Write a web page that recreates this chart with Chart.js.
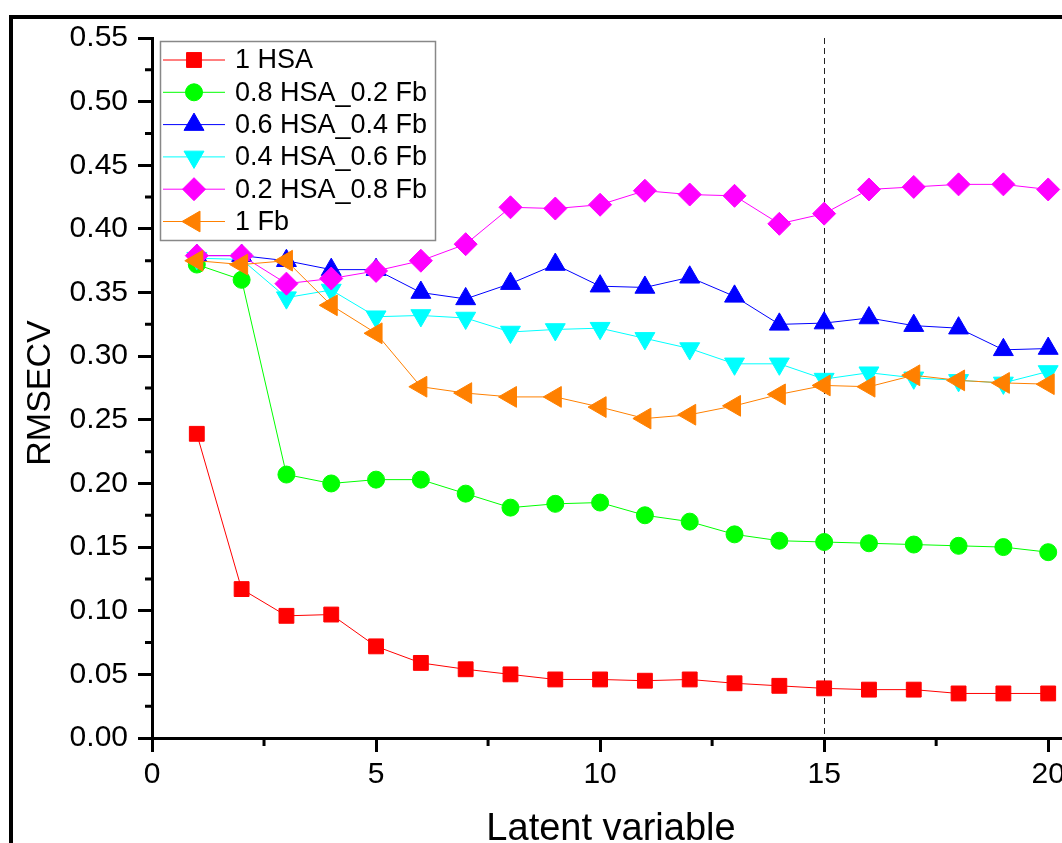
<!DOCTYPE html>
<html>
<head>
<meta charset="utf-8">
<script src="https://cdn.jsdelivr.net/npm/chart.js"></script>
<style>
  html, body { margin: 0; padding: 0; background: #fff; overflow: hidden; }
  #wrap { width: 1062px; height: 843px; overflow: hidden; position: relative; }
</style>
</head>
<body>
<div id="wrap"><canvas id="myChart" width="1106" height="843"></canvas></div>
<script>
// latent variables (x) and RMSECV values
const latentVars = [1, 2, 3, 4, 5, 6, 7, 8, 9, 10, 11, 12, 13, 14, 15, 16, 17, 18, 19, 20];
const hsa1 = [0.239, 0.117, 0.096, 0.097, 0.072, 0.059, 0.054, 0.050, 0.046, 0.046, 0.045, 0.046, 0.043, 0.041, 0.039, 0.038, 0.038, 0.035, 0.035, 0.035];
const hsa08 = [0.372, 0.360, 0.207, 0.200, 0.203, 0.203, 0.192, 0.181, 0.184, 0.185, 0.175, 0.170, 0.160, 0.155, 0.154, 0.153, 0.152, 0.151, 0.150, 0.146];
const hsa06 = [0.379, 0.379, 0.375, 0.368, 0.368, 0.350, 0.345, 0.357, 0.372, 0.355, 0.354, 0.362, 0.347, 0.325, 0.326, 0.330, 0.324, 0.322, 0.305, 0.306];
const hsa04 = [0.377, 0.376, 0.346, 0.352, 0.331, 0.332, 0.330, 0.319, 0.321, 0.322, 0.314, 0.306, 0.294, 0.294, 0.282, 0.287, 0.283, 0.281, 0.279, 0.288];
const hsa02 = [0.379, 0.379, 0.357, 0.361, 0.367, 0.375, 0.388, 0.417, 0.416, 0.419, 0.430, 0.427, 0.426, 0.404, 0.412, 0.431, 0.433, 0.435, 0.435, 0.431];
const fb1 = [0.375, 0.372, 0.375, 0.340, 0.318, 0.276, 0.271, 0.268, 0.268, 0.260, 0.251, 0.254, 0.261, 0.270, 0.277, 0.276, 0.285, 0.281, 0.279, 0.278];

const seriesNames = ['1 HSA', '0.8 HSA_0.2 Fb', '0.6 HSA_0.4 Fb', '0.4 HSA_0.6 Fb', '0.2 HSA_0.8 Fb', '1 Fb'];
const yTicks = [0, 0.05, 0.10, 0.15, 0.20, 0.25, 0.30, 0.35, 0.40, 0.45, 0.50, 0.55];
const xTicks = [0, 5, 10, 15, 20];
const markLV = 15; // dashed reference line

const FONT = "'Liberation Sans', Arial, sans-serif";

function pts(vals) {
  return latentVars.map((x, i) => ({ x: x, y: vals[i] }));
}

function makeSet(label, vals, color, style, r, rot, order) {
  return {
    label: label,
    data: pts(vals),
    borderColor: color,
    backgroundColor: color,
    borderWidth: 1,
    pointStyle: style,
    pointRadius: r,
    pointRotation: rot,
    pointBorderWidth: 1,
    pointBorderColor: color,
    pointBackgroundColor: color,
    tension: 0,
    order: order
  };
}

const datasets = [
  makeSet(seriesNames[0], hsa1, '#ff0000', 'rect', 10.5, 0, 6),
  makeSet(seriesNames[1], hsa08, '#00ff00', 'circle', 8.5, 0, 5),
  makeSet(seriesNames[2], hsa06, '#0000ff', 'triangle', 11.5, 0, 4),
  makeSet(seriesNames[3], hsa04, '#00ffff', 'triangle', 11.5, 180, 3),
  makeSet(seriesNames[4], hsa02, '#ff00ff', 'rectRot', 11.5, 0, 2),
  makeSet(seriesNames[5], fb1, '#ff8000', 'triangle', 12, 270, 1)
];

// small marker drawer for the legend
function drawMarker(ctx, ds, x, y) {
  const r = ds.pointRadius;
  const rad = (ds.pointRotation || 0) * Math.PI / 180;
  ctx.save();
  ctx.fillStyle = ds.pointBackgroundColor;
  ctx.strokeStyle = ds.pointBorderColor;
  ctx.lineWidth = 1;
  ctx.beginPath();
  if (ds.pointStyle === 'circle') {
    ctx.arc(x, y, r, 0, Math.PI * 2);
  } else if (ds.pointStyle === 'rect') {
    const s = Math.SQRT1_2 * r;
    ctx.rect(x - s, y - s, 2 * s, 2 * s);
  } else if (ds.pointStyle === 'rectRot') {
    ctx.moveTo(x, y - r); ctx.lineTo(x + r, y); ctx.lineTo(x, y + r); ctx.lineTo(x - r, y);
  } else {
    let a = rad;
    ctx.moveTo(x + Math.sin(a) * r, y - Math.cos(a) * r);
    a += 2 * Math.PI / 3;
    ctx.lineTo(x + Math.sin(a) * r, y - Math.cos(a) * r);
    a += 2 * Math.PI / 3;
    ctx.lineTo(x + Math.sin(a) * r, y - Math.cos(a) * r);
  }
  ctx.closePath();
  ctx.fill();
  ctx.stroke();
  ctx.restore();
}

const extras = {
  id: 'extras',
  beforeDatasetsDraw(chart) {
    const ctx = chart.ctx;
    const xs = chart.scales.x;
    const a = chart.chartArea;
    const px = Math.round(xs.getPixelForValue(markLV)) + 0.5;
    ctx.save();
    ctx.strokeStyle = '#222';
    ctx.lineWidth = 1;
    ctx.setLineDash([6, 4]);
    ctx.beginPath();
    ctx.moveTo(px, a.top);
    ctx.lineTo(px, a.bottom);
    ctx.stroke();
    ctx.restore();
  },
  afterDraw(chart) {
    const ctx = chart.ctx;
    const xs = chart.scales.x, ys = chart.scales.y;
    const a = chart.chartArea;
    ctx.save();

    // minor ticks
    ctx.strokeStyle = '#000';
    ctx.lineWidth = 3;
    ctx.beginPath();
    for (let i = 0; i < yTicks.length - 1; i++) {
      const py = ys.getPixelForValue((yTicks[i] + yTicks[i + 1]) / 2);
      ctx.moveTo(a.left, py);
      ctx.lineTo(a.left - 7, py);
    }
    for (let i = 0; i < xTicks.length; i++) {
      const px = xs.getPixelForValue(xTicks[i] + 2.5);
      ctx.moveTo(px, a.bottom);
      ctx.lineTo(px, a.bottom + 8);
    }
    ctx.stroke();

    // outer frame
    ctx.lineWidth = 4;
    ctx.strokeRect(11, 17, 2000, 2000);

    // axis titles
    ctx.fillStyle = '#000';
    ctx.textAlign = 'center';
    ctx.textBaseline = 'alphabetic';
    ctx.font = '38px ' + FONT;
    ctx.fillText('Latent variable', 611, 840);
    ctx.save();
    ctx.translate(50, 393);
    ctx.rotate(-Math.PI / 2);
    ctx.font = '34px ' + FONT;
    ctx.fillText('RMSECV', 0, 0);
    ctx.restore();

    // legend
    const lx = 160, ly = 41, lw = 275, lh = 199;
    ctx.fillStyle = '#fff';
    ctx.fillRect(lx, ly, lw, lh);
    ctx.strokeStyle = '#888';
    ctx.lineWidth = 1.5;
    ctx.strokeRect(lx + 0.5, ly + 0.5, lw, lh);
    ctx.font = '27px ' + FONT;
    ctx.textAlign = 'left';
    ctx.textBaseline = 'middle';
    chart.data.datasets.forEach((ds, i) => {
      const cy = 60 + i * 32.3;
      ctx.strokeStyle = ds.borderColor;
      ctx.lineWidth = 1;
      ctx.beginPath();
      ctx.moveTo(163, cy);
      ctx.lineTo(225, cy);
      ctx.stroke();
      drawMarker(ctx, ds, 194, cy);
      ctx.fillStyle = '#000';
      ctx.fillText(ds.label, 235, cy + 1);
    });
    ctx.restore();
  }
};

function makeChart() {
  const ctx = document.getElementById('myChart');
  return new Chart(ctx, {
    type: 'line',
    data: { datasets: datasets },
    options: {
      responsive: false,
      animation: false,
      layout: { padding: { left: 0, top: 38, right: 8, bottom: 0 } },
      plugins: { legend: { display: false }, tooltip: { enabled: false } },
      scales: {
        x: {
          type: 'linear',
          min: 0,
          max: 21,
          afterFit: (s) => { s.height = 105; },
          ticks: {
            stepSize: 5,
            includeBounds: false,
            maxRotation: 0,
            padding: 5,
            color: '#000',
            font: { family: FONT, size: 30 }
          },
          grid: { drawOnChartArea: false, drawTicks: true, tickLength: 14, tickWidth: 3, tickColor: '#000' },
          border: { display: true, color: '#000', width: 3 }
        },
        y: {
          min: 0,
          max: 0.55,
          afterFit: (s) => { s.width = 152; },
          ticks: {
            stepSize: 0.05,
            padding: 10,
            color: '#000',
            font: { family: FONT, size: 30 },
            callback: (v) => v.toFixed(2)
          },
          grid: { drawOnChartArea: false, drawTicks: true, tickLength: 14, tickWidth: 3, tickColor: '#000' },
          border: { display: true, color: '#000', width: 3 }
        }
      }
    },
    plugins: [extras]
  });
}

document.addEventListener('DOMContentLoaded', () => makeChart());
</script>
</body>
</html>
